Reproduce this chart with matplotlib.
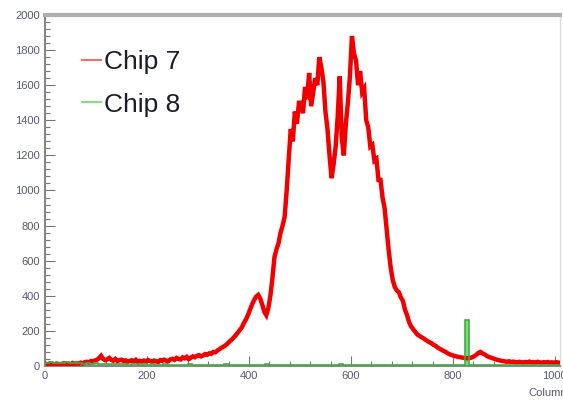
import numpy as np
import matplotlib
matplotlib.use("Agg")
import matplotlib.pyplot as plt
from matplotlib.lines import Line2D
from matplotlib.ticker import MultipleLocator

plt.rcParams["font.family"] = ["Liberation Sans", "DejaVu Sans"]

# chip 7: 4 columns per bin, 0..1024
chip7_width = 4
chip7 = [
    12, 9, 15, 11, 8, 14, 12, 10, 13, 16, 11, 14, 9, 17, 12, 15, 13, 19, 14, 22, 24, 20, 28, 25, 32,
    36, 45, 58, 40, 33, 38, 46, 35, 30, 40, 27, 33, 36, 28, 32, 24, 28, 33, 26, 35, 22, 29, 25, 31, 27,
    34, 28, 24, 31, 27, 22, 33, 29, 36, 30, 27, 38, 41, 35, 46, 40, 37, 49, 44, 52, 39, 47, 55, 50, 58,
    62, 55, 60, 68, 64, 72, 70, 80, 78, 88, 95, 104, 110, 118, 128, 140, 150, 162, 175, 190, 206, 220, 245, 265, 290,
    320, 350, 375, 395, 405, 385, 350, 310, 290, 330, 400, 500, 620, 665, 700, 760, 800, 850, 1000, 1180, 1350, 1280, 1450, 1380, 1500,
    1500, 1440, 1590, 1520, 1670, 1480, 1560, 1640, 1600, 1760, 1700, 1620, 1450, 1350, 1200, 1070, 1150, 1250, 1420, 1650, 1300, 1200, 1380, 1500, 1650,
    1880, 1780, 1740, 1600, 1680, 1560, 1580, 1400, 1360, 1250, 1260, 1170, 1180, 1060, 1060, 960, 900, 780, 660, 560, 490, 450, 430, 420, 390,
    370, 320, 290, 250, 225, 210, 195, 180, 172, 165, 158, 150, 142, 135, 130, 120, 115, 105, 98, 92, 85, 80, 72, 66, 62,
    58, 55, 52, 50, 48, 46, 44, 45, 46, 50, 56, 64, 75, 80, 72, 66, 58, 52, 48, 44, 40, 36, 33, 30, 28,
    26, 24, 27, 22, 25, 23, 20, 24, 22, 19, 23, 21, 25, 20, 22, 19, 24, 21, 18, 22, 20, 23, 19, 21, 18, 22, 20, 17, 21, 19, 18,
]
# chip 8: 8 columns per bin
chip8_width = 8
chip8 = [
    18, 20, 16, 19, 17, 21, 15, 18, 16, 14, 17, 13, 15, 12, 14, 11,
    10, 12, 9, 11, 8, 10, 9, 7, 9, 8, 10, 7, 8, 9, 7, 8,
    6, 8, 7, 9, 6, 7, 8, 6, 7, 8, 6, 7, 9, 6, 8, 7,
    6, 8, 7, 6, 8, 7, 9, 6, 7, 8, 6, 7, 8, 6, 7, 8,
    6, 7, 8, 6, 7, 8, 6, 7, 9, 6, 7, 8, 6, 7, 8, 6,
    7, 8, 6, 7, 8, 6, 7, 8, 6, 7, 8, 6, 7, 8, 6, 7,
    8, 6, 7, 8, 6, 7, 8, 263, 7, 8, 6, 7, 8, 6, 7, 8,
    6, 7, 8, 6, 7, 8, 6, 7, 8, 6, 7, 8, 6, 7, 8, 6,
]
labels = ["Chip 7", "Chip 8"]

chip7_x = np.arange(len(chip7)) * chip7_width + chip7_width / 2
chip8_edges = np.arange(len(chip8) + 1) * chip8_width

fig = plt.figure(figsize=(5.63, 4.01), dpi=100)
ax = fig.add_axes([45 / 563, 35 / 401, 515 / 563, 351 / 401])

ax.stairs(chip8, chip8_edges, color="#77dd77", fill=True, zorder=2)
ax.plot(chip7_x, chip7, color="#f20000", linewidth=3.2, solid_joinstyle="miter", zorder=3)
ax.stairs(chip8, chip8_edges, color="#44aa44", linewidth=1.2, zorder=4)

ax.set_xlim(0, 1010)
ax.set_ylim(0, 2000)

ax.xaxis.set_major_locator(MultipleLocator(200))
ax.xaxis.set_minor_locator(MultipleLocator(40))
ax.yaxis.set_major_locator(MultipleLocator(200))
ax.yaxis.set_minor_locator(MultipleLocator(40))
ax.tick_params(which="both", direction="in", color="#777777", width=0.8,
               labelsize=8, labelcolor="#585870", top=False, right=False)
ax.tick_params(which="major", length=7)
ax.tick_params(which="minor", length=3.5)

for side in ["left", "bottom"]:
    ax.spines[side].set_color("#888888")
    ax.spines[side].set_linewidth(1.5)
ax.spines["top"].set_color("#b0b0b0")
ax.spines["top"].set_linewidth(3)
ax.spines["right"].set_color("#dddddd")
ax.spines["right"].set_linewidth(1)

fig.text(528 / 563, 1 - 393 / 401, "Column", fontsize=8, color="#585870",
         ha="left", va="center")

leg_handles = [Line2D([], [], color="#ff6a6a", linewidth=1.5),
               Line2D([], [], color="#7ae87a", linewidth=1.5)]
ax.legend(leg_handles, labels, loc="upper left", bbox_to_anchor=(0.072, 0.9005),
          frameon=False, fontsize=19, handlelength=0.7, handletextpad=0.12,
          labelspacing=0.71, borderpad=0, borderaxespad=0, labelcolor="#1c1c2c")

fig.savefig("out.png", dpi=100)
